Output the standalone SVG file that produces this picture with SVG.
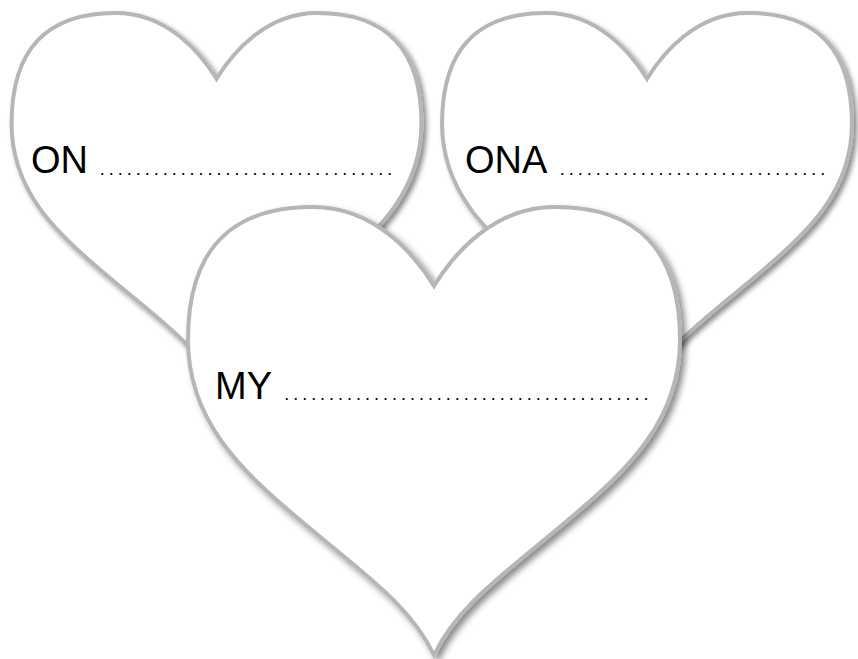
<svg xmlns="http://www.w3.org/2000/svg" xmlns:xlink="http://www.w3.org/1999/xlink" width="858" height="659" viewBox="0 0 858 659">
  <defs>
    <filter id="shadow" x="-10%" y="-10%" width="125%" height="125%">
      <feDropShadow dx="4" dy="4" stdDeviation="3" flood-color="#000000" flood-opacity="0.45"/>
    </filter>
    <path id="heartShape" d="M434 286 C415 255 375 207 313 207 C230 207 188 250 188 340 C188 420 240 470 300 520 C365 575 410 605 434 655 C458 605 503 575 568 520 C628 470 680 420 680 340 C680 250 638 207 555 207 C493 207 453 255 434 286 Z"/>
  </defs>
  <style>
    .heart { fill: #ffffff; stroke: #b4b6b9; stroke-linejoin: miter; filter: url(#shadow); }
    .label { font-family: "Liberation Sans", Arial, sans-serif; font-size: 38px; fill: #000000; }
    .dots { font-family: "Liberation Sans", Arial, sans-serif; font-size: 18px; letter-spacing: 3.98px; fill: #000000; }
  </style>
  <rect width="858" height="659" fill="#ffffff"/>
  <g id="connectors"></g>
  <g id="heart-on">
    <use xlink:href="#heartShape" href="#heartShape" class="heart" stroke-width="4.8" transform="translate(216.5,13) scale(0.833) translate(-434,-207)"/>
    <text class="label" x="31" y="173">ON</text>
    <text class="dots" x="99.8" y="174.5">.................................</text>
  </g>
  <g id="heart-ona">
    <use xlink:href="#heartShape" href="#heartShape" class="heart" stroke-width="4.8" transform="translate(647,13) scale(0.833) translate(-434,-207)"/>
    <text class="label" x="465" y="173">ONA</text>
    <text class="dots" x="559.8" y="174.5">..............................</text>
  </g>
  <g id="heart-my">
    <use xlink:href="#heartShape" href="#heartShape" class="heart" stroke-width="4"/>
    <text class="label" x="215" y="399">MY</text>
    <text class="dots" x="284.2" y="400">.........................................</text>
  </g>
</svg>
